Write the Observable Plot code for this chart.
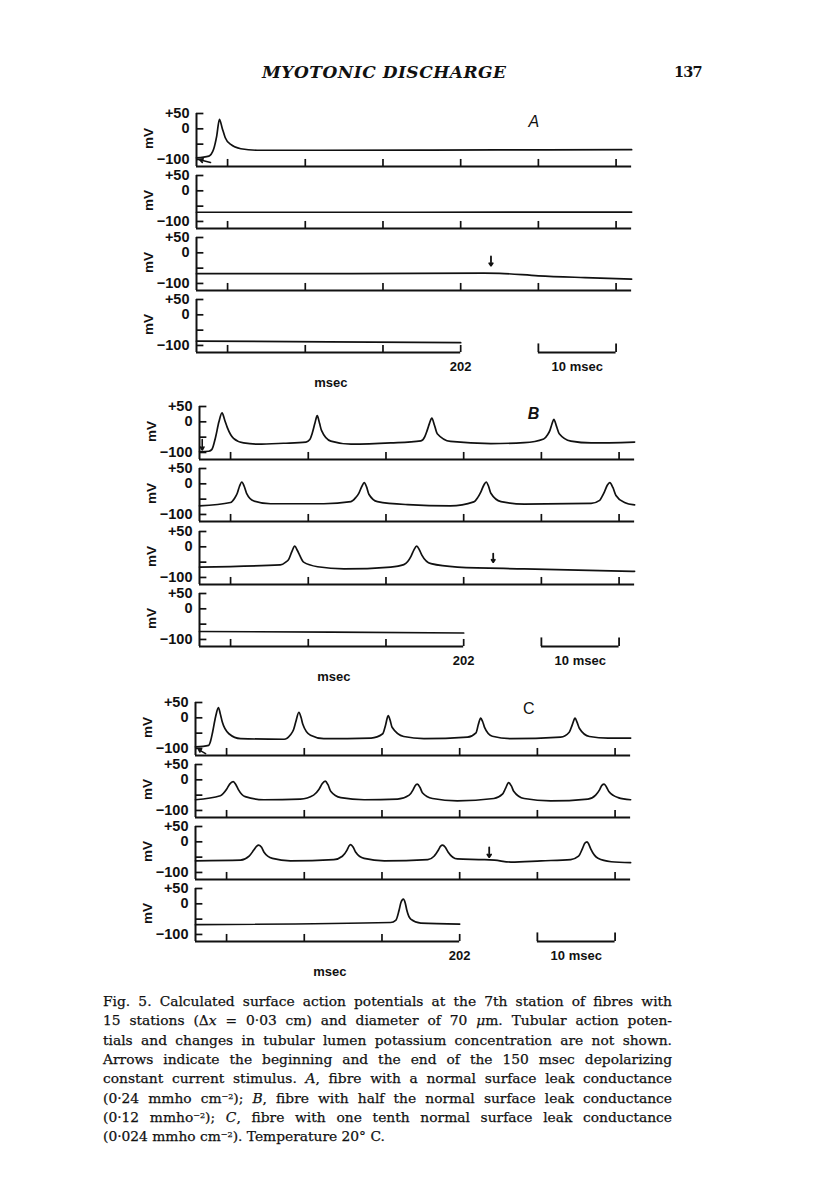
<!DOCTYPE html>
<html><head><meta charset="utf-8">
<script src="https://cdn.jsdelivr.net/npm/d3@7"></script>
<script src="https://cdn.jsdelivr.net/npm/@observablehq/plot@0.6"></script>
<style>
html,body{margin:0;padding:0;background:#fff}
body{width:816px;height:1195px;position:relative;overflow:hidden;color:#111}
.row{position:absolute;left:0}
.row svg{overflow:visible;background:transparent}
#hdr{position:absolute;left:262px;top:62px;font-family:"DejaVu Serif";font-weight:bold;font-style:italic;font-size:17px;letter-spacing:0.5px;white-space:nowrap}
#pg{position:absolute;left:674px;top:63px;font-family:"DejaVu Serif";font-weight:bold;font-size:14.5px;letter-spacing:-0.8px}
#cap{position:absolute;left:103px;top:992px;width:569px;font-family:"DejaVu Serif";font-size:13.8px;line-height:19.35px;color:#111;-webkit-text-stroke:0.25px #111}
#cap div{text-align:justify;text-align-last:justify;white-space:nowrap;height:19.35px}
#cap div.last{text-align-last:left}
#cap sup{font-size:8px;line-height:0;vertical-align:0.5em}
</style></head><body>
<div id="hdr">MYOTONIC DISCHARGE</div>
<div id="pg">137</div>
<div id="charts"></div>
<div id="cap">
<div>Fig. 5. Calculated surface action potentials at the 7th station of fibres with</div>
<div>15 stations (Δ<i>x</i> = 0·03 cm) and diameter of 70 <i>μ</i>m. Tubular action poten-</div>
<div>tials and changes in tubular lumen potassium concentration are not shown.</div>
<div>Arrows indicate the beginning and the end of the 150 msec depolarizing</div>
<div>constant current stimulus. <i>A</i>, fibre with a normal surface leak conductance</div>
<div>(0·24 mmho cm<sup>−2</sup>); <i>B</i>, fibre with half the normal surface leak conductance</div>
<div>(0·12 mmho<sup>−2</sup>); <i>C</i>, fibre with one tenth normal surface leak conductance</div>
<div class="last">(0·024 mmho cm<sup>−2</sup>). Temperature 20° C.</div>
</div>
<script>
// ---- data: [time within row (msec), membrane potential (mV)] ----
const A1 = [[0,-95],[1.6,-89],[2.2,-67],[2.6,-24],[2.95,31],[3.3,3],[3.7,-29],[4.4,-51],[5.7,-65],[7.8,-70],[16,-70],[30,-69.5],[45,-68.5],[56,-68]];
const A2 = [[0,-70],[28,-70],[56,-69.5]];
const A3 = [[0,-68],[20,-68],[37,-66],[39,-67],[44,-75],[50,-81],[56,-86]];
const A4 = [[0,-86],[17,-88],[34,-91]];

const B1 = [[0,-98],[1.2,-96],[1.6,-90],[2.06,-51],[2.5,0],[2.9,29],[3.25,5],[3.57,-18],[4.38,-54],[5.67,-69],[7.5,-73],[10.8,-70],[13.7,-66],[14.2,-58],[14.5,-38],[14.85,-5],[15.15,20],[15.45,-5],[15.7,-28],[16.9,-63],[19.5,-73],[24.6,-69],[28.5,-62],[29.0,-48],[29.3,-28],[29.6,-5],[29.9,12],[30.25,-12],[30.6,-39],[32.3,-64],[37.5,-71],[41.8,-68],[44.3,-56],[44.8,-42],[45.1,-28],[45.35,-8],[45.6,8],[45.95,-15],[46.3,-39],[47.8,-63],[50.4,-69],[56,-66]];
const B2 = [[0,-72],[4,-61],[4.5,-48],[4.86,-31],[5.15,-8],[5.45,6],[5.75,-8],[6.06,-31],[7.0,-56],[9.15,-65],[16,-65],[19.5,-58],[20.1,-45],[20.5,-31],[20.9,-8],[21.2,4],[21.5,-10],[21.8,-34],[22.9,-58],[26.8,-68],[32.3,-72],[35.3,-59],[35.8,-45],[36.2,-27],[36.6,-4],[36.9,6],[37.2,-8],[37.5,-31],[38.8,-58],[41.8,-66],[50.4,-64],[51.5,-54],[51.8,-42],[52.1,-27],[52.5,-4],[52.8,4],[53.2,-12],[53.6,-38],[54.7,-61],[56,-69]];
const B3 = [[0,-66],[10.4,-59],[11.1,-50],[11.5,-40],[11.9,-15],[12.25,2],[12.6,-12],[12.9,-28],[13.4,-50],[15.2,-65],[18.6,-72],[24.6,-66],[26.3,-58],[26.8,-48],[27.2,-32],[27.6,-10],[27.95,2],[28.3,-10],[28.6,-26],[29.8,-55],[33.2,-66],[41.8,-72],[56,-80]];
const B4 = [[0,-74],[17,-76],[34,-79]];

const C1 = [[0,-95],[1.7,-90],[1.95,-75],[2.2,-47],[2.6,5],[2.95,33],[3.2,12],[3.45,-14],[4.3,-52],[5.8,-68],[11.4,-70],[12.2,-56],[12.6,-40],[12.9,-14],[13.3,18],[13.6,0],[13.8,-20],[14.8,-57],[16.5,-68],[22.6,-66],[24.1,-52],[24.45,-25],[24.8,7],[25.05,-8],[25.3,-31],[26.8,-61],[29.4,-68],[35.0,-63],[36.1,-49],[36.4,-22],[36.7,-1],[36.95,-12],[37.2,-31],[38.2,-60],[40.6,-68],[47.0,-63],[48.1,-47],[48.5,-22],[48.85,-1],[49.1,-14],[49.4,-34],[50.7,-61],[53.1,-66],[56,-66]];
const C2 = [[0,-65],[3.2,-52],[4.0,-31],[4.4,-14],[4.85,-6],[5.2,-16],[5.5,-31],[6.4,-55],[8.8,-65],[13.5,-63],[15.2,-50],[15.9,-31],[16.3,-13],[16.7,-4],[17.05,-16],[17.4,-37],[18.7,-58],[21.7,-65],[26.0,-63],[27.5,-50],[28.0,-33],[28.25,-20],[28.55,-14],[28.9,-25],[29.2,-42],[30.5,-61],[33.7,-69],[38.4,-61],[39.5,-47],[39.9,-28],[40.3,-9],[40.65,-20],[40.95,-37],[42.3,-61],[45.7,-69],[50.5,-63],[51.5,-50],[52.0,-33],[52.3,-18],[52.6,-14],[52.9,-24],[53.2,-38],[54.4,-58],[56,-65]];
const C3 = [[0,-62],[5.8,-60],[6.9,-47],[7.5,-27],[7.85,-15],[8.15,-11],[8.5,-18],[8.8,-33],[9.9,-54],[12.2,-62],[17.8,-58],[18.9,-47],[19.5,-27],[19.75,-14],[19.95,-9],[20.3,-18],[20.6,-33],[21.7,-54],[24.3,-62],[29.9,-58],[30.7,-47],[31.3,-25],[31.55,-14],[31.8,-11],[32.15,-18],[32.5,-33],[33.7,-56],[37.2,-58],[38.5,-60],[40.6,-66],[44.5,-62],[48.3,-58],[49.3,-47],[49.8,-22],[50.1,-5],[50.4,0],[50.65,-10],[50.9,-25],[51.8,-54],[53.5,-65],[56,-68]];
const C4 = [[0,-68],[25.1,-61],[25.8,-53],[26.2,-21],[26.45,5],[26.75,15],[27.0,2],[27.2,-21],[27.7,-50],[29.0,-63],[34,-66]];

// axes
const yMin = -123;                      // bottom frame of each trace (mV)
const yTicks = [50, 0, -50, -100];
const yLabels = [{v: 50, label: "+50"}, {v: 0, label: "0"}, {v: -100, label: "\u2212100"}];
const xTicks = [4, 14, 24, 34, 44, 54]; // msec within a row
const rowLength = 56;                   // msec per row
const lastRowEnd = 34;                  // ends at 202 msec
const endLabel = "202";
const scaleBar = [44, 54];              // 10 msec
// stimulus arrows (begin in row 1, end at 150 msec in row 3)
const startArrows = {A: [1.8, -110, 0.4, -101], B: [0.35, -58, 0.35, -92], C: [1.3, -117, 0.4, -104]};
const endArrows = {A: [37.9, -12, 37.9, -42], B: [37.8, -22, 37.8, -50], C: [37.8, -18, 37.8, -50]};

const panels = [
  {name: "A", rows: [A1, A2, A3, A4], x0: 196, top: 113, step: 62, letterPos: [43.4, 24], style: "italic", weight: "normal"},
  {name: "B", rows: [B1, B2, B3, B4], x0: 199, top: 405.5, step: 62.5, letterPos: [43.0, 26], style: "italic", weight: "bold"},
  {name: "C", rows: [C1, C2, C3, C4], x0: 195, top: 701.7, step: 62.2, letterPos: [42.9, 30], style: "normal", weight: "normal"}
];

const FONT = "Liberation Sans, Arial, sans-serif";
const pxPerMs = 7.77;
const W = 700;
const mTop = 8;

const holder = document.getElementById("charts");
for (const p of panels) {
  p.rows.forEach((data, r) => {
    const last = r === 3;
    const axisEnd = last ? lastRowEnd : rowLength;
    const mBottom = last ? 41 : 1;
    const marks = [
      Plot.ruleX([0], {y1: yMin, y2: 50, strokeWidth: 2}),
      Plot.ruleY([yMin], {x1: 0, x2: axisEnd, strokeWidth: 2}),
      Plot.ruleY(yTicks, {x1: 0, x2: 0.95, strokeWidth: 1.7}),
      Plot.ruleX(xTicks.filter(t => t <= axisEnd), {y1: yMin, y2: -100, strokeWidth: 1.7}),
      Plot.text(yLabels, {x: 0, y: "v", text: "label", dx: -7, textAnchor: "end", fontSize: 14.5, fontWeight: "bold", fontFamily: FONT}),
      Plot.text(["mV"], {x: 0, y: -32, text: d => d, dx: -48, rotate: -90, fontSize: 13.5, fontWeight: "bold", fontFamily: FONT}),
      Plot.line(data, {x: d => d[0], y: d => d[1], curve: "monotone-x", strokeWidth: 1.7})
    ];
    if (r === 0) {
      marks.push(Plot.text([p.name], {x: p.letterPos[0], y: p.letterPos[1], text: d => d, fontSize: 16, fontStyle: p.style, fontWeight: p.weight, fontFamily: FONT}));
      const a = startArrows[p.name];
      marks.push(Plot.arrow([a], {x1: d => d[0], y1: d => d[1], x2: d => d[2], y2: d => d[3], headLength: 5, strokeWidth: 1.6}));
    }
    if (r === 2) {
      const a = endArrows[p.name];
      marks.push(Plot.arrow([a], {x1: d => d[0], y1: d => d[1], x2: d => d[2], y2: d => d[3], headLength: 5, headAngle: 70, strokeWidth: 1.8}));
    }
    if (last) {
      marks.push(
        Plot.ruleY([yMin], {x1: scaleBar[0], x2: scaleBar[1], strokeWidth: 2}),
        Plot.ruleX(scaleBar, {y1: yMin, y2: -95, strokeWidth: 1.8}),
        Plot.text([endLabel], {x: lastRowEnd, y: yMin, text: d => d, dy: 14, fontSize: 13, fontWeight: "bold", fontFamily: FONT}),
        Plot.text(["10 msec"], {x: (scaleBar[0] + scaleBar[1]) / 2, y: yMin, text: d => d, dy: 14, fontSize: 13, fontWeight: "bold", fontFamily: FONT}),
        Plot.text(["msec"], {x: 17.3, y: yMin, text: d => d, dy: 30, fontSize: 13, fontWeight: "bold", fontFamily: FONT})
      );
    }
    const svg = Plot.plot({
      width: W,
      height: mTop + 53 + mBottom,
      marginTop: mTop,
      marginBottom: mBottom,
      marginLeft: p.x0,
      marginRight: W - p.x0 - rowLength * pxPerMs,
      x: {domain: [0, rowLength], axis: null},
      y: {domain: [yMin, 50], axis: null},
      style: {background: "transparent", overflow: "visible", color: "#111"},
      marks
    });
    const div = document.createElement("div");
    div.className = "row";
    div.style.top = (p.top + r * p.step - mTop) + "px";
    div.appendChild(svg);
    holder.appendChild(div);
  });
}
</script>
</body></html>
